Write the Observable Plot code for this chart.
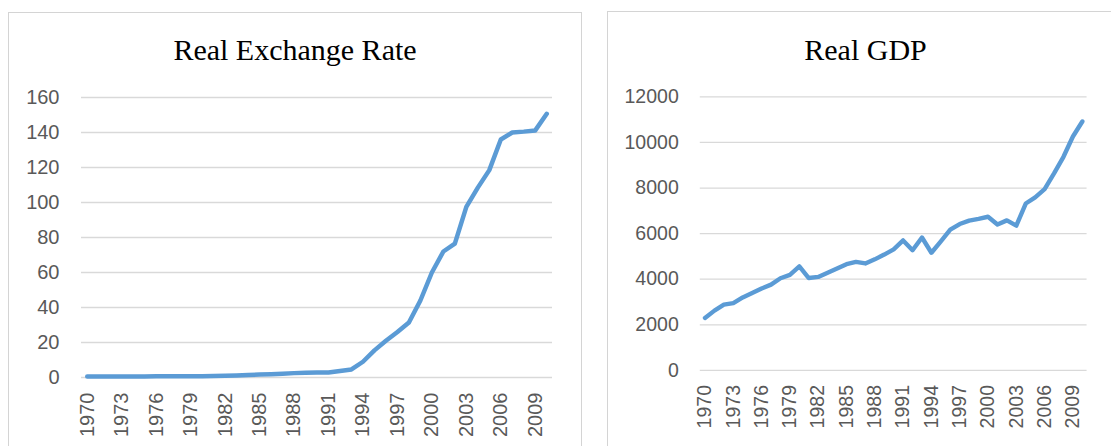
<!DOCTYPE html>
<html>
<head>
<meta charset="utf-8">
<script src="https://cdn.jsdelivr.net/npm/d3@7"></script>
<script src="https://cdn.jsdelivr.net/npm/@observablehq/plot@0.6"></script>
<style>
  html, body { margin: 0; padding: 0; background: #fff; }
  #root { position: relative; width: 1111px; height: 446px; overflow: hidden; background: #fff; }
  .panel { position: absolute; border: 1px solid #d4d4d4; background: #fff; box-sizing: border-box; }
  .title { position: absolute; left: 0; right: 0; text-align: center; font-family: "Liberation Serif", "Times New Roman", serif; font-size: 30px; line-height: 1; color: #000; }
  .chart { position: absolute; }
</style>
</head>
<body>
<div id="root">
  <div class="panel" id="p1" style="left:8px; top:12px; width:574px; height:460px;">
    <div class="title" style="top:22px;">Real Exchange Rate</div>
  </div>
  <div class="panel" id="p2" style="left:607px; top:11px; width:517px; height:460px;">
    <div class="title" style="top:23px;">Real GDP</div>
  </div>
  <div class="chart" id="c1" style="left:8px; top:70px;"></div>
  <div class="chart" id="c2" style="left:607px; top:70px;"></div>
</div>
<script>
const years = [1970,1971,1972,1973,1974,1975,1976,1977,1978,1979,1980,1981,1982,1983,1984,1985,1986,1987,1988,1989,1990,1991,1992,1993,1994,1995,1996,1997,1998,1999,2000,2001,2002,2003,2004,2005,2006,2007,2008,2009,2010];
const tickYears = [1970,1973,1976,1979,1982,1985,1988,1991,1994,1997,2000,2003,2006,2009];
const rerValues = [0.6,0.6,0.6,0.6,0.6,0.6,0.7,0.7,0.7,0.7,0.7,0.8,1.0,1.2,1.4,1.7,1.9,2.2,2.5,2.7,2.8,2.9,3.7,4.6,9.0,15.5,21.0,26.0,31.4,44.0,60.0,72.0,76.5,97.5,108.5,118.5,136.0,140.0,140.5,141.2,150.7];
const gdpValues = [2300,2620,2880,2950,3200,3390,3590,3760,4040,4190,4560,4050,4100,4280,4470,4660,4760,4690,4870,5080,5310,5700,5270,5830,5160,5660,6170,6420,6570,6650,6740,6400,6580,6350,7320,7590,7950,8640,9370,10260,10920];
const rerTicks = [0,20,40,60,80,100,120,140,160];
const gdpTicks = [0,2000,4000,6000,8000,10000,12000];

function makeChart(values, yDomain, yTicks, opts) {
  const data = years.map((y, i) => ({year: y, value: values[i]}));
  return Plot.plot({
    width: opts.width,
    height: 376,
    marginTop: 27,
    marginBottom: 69,
    marginLeft: opts.marginLeft,
    marginRight: opts.marginRight,
    style: {fontFamily: "'Liberation Sans', Arial, sans-serif", fontSize: "20px", color: "#595959", background: "transparent"},
    x: {type: "point", domain: years, padding: 0.5, round: false, label: null},
    y: {domain: yDomain, label: null},
    marks: [
      Plot.gridY(yTicks, {stroke: "#d9d9d9", strokeOpacity: 1, strokeWidth: 1.3}),
      Plot.axisY({ticks: yTicks, tickSize: 0, tickPadding: 22, fontSize: 20, tickFormat: d => String(d), label: null}),
      Plot.axisX({ticks: tickYears, tickSize: 0, tickPadding: 15, fontSize: 20, tickRotate: -90, tickFormat: d => String(d), label: null}),
      Plot.line(data, {x: "year", y: "value", stroke: "#5b9bd5", strokeWidth: 4.5, strokeLinejoin: "round", strokeLinecap: "round"})
    ]
  });
}

document.getElementById("c1").appendChild(makeChart(rerValues, [0,160], rerTicks, {width: 573, marginLeft: 73, marginRight: 29}));
document.getElementById("c2").appendChild(makeChart(gdpValues, [0,12000], gdpTicks, {width: 516, marginLeft: 95, marginRight: 25}));
</script>
</body>
</html>
